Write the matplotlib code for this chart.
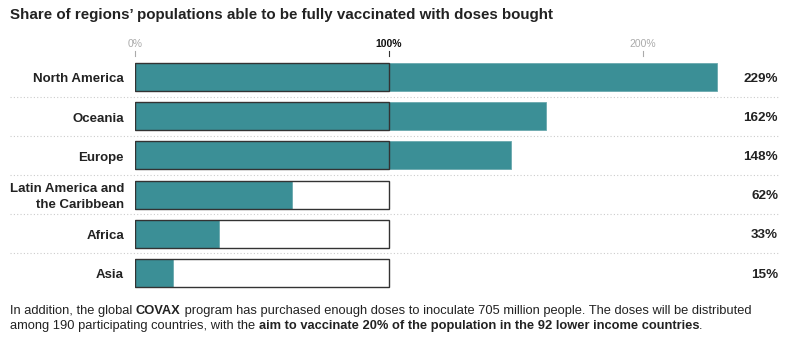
import matplotlib
matplotlib.use("Agg")
import matplotlib.pyplot as plt
from matplotlib.transforms import blended_transform_factory

regions = ["North America", "Oceania", "Europe", "Latin America and\nthe Caribbean", "Africa", "Asia"]
values = [229, 162, 148, 62, 33, 15]
tick_vals = [0, 100, 200]
tick_labels = ["0%", "100%", "200%"]
title = "Share of regions\u2019 populations able to be fully vaccinated with doses bought"

TEAL = "#3b8f96"
EDGE = "#333333"
W, H = 790, 343
fig = plt.figure(figsize=(W / 100, H / 100), dpi=100)
fig.patch.set_facecolor("white")

# axes in pixel terms
ax_l, ax_r = 135, 778
ax_top, ax_bot = 55, 292
ax = fig.add_axes([ax_l / W, 1 - ax_bot / H, (ax_r - ax_l) / W, (ax_bot - ax_top) / H])
row = 39.2
ax.set_xlim(0, (ax_r - ax_l) / 254 * 100)
ax.set_ylim((ax_bot - 77) / row, -(77 - ax_top) / row)
ax.axis("off")

bh = 28 / row
for i, v in enumerate(values):
    ax.barh(i, v, height=bh, color=TEAL, edgecolor="#6aa9ae", linewidth=0.6, zorder=2)
    ax.barh(i, 100, height=bh, facecolor="none", edgecolor=EDGE, linewidth=1.0, zorder=3)

ft = blended_transform_factory(fig.transFigure, ax.transData)
for i in range(len(values) - 1):
    ax.plot([10 / W, 778 / W], [i + 0.5, i + 0.5], transform=ft, color="#cccccc",
            linestyle=(0, (1, 2)), linewidth=0.8, clip_on=False, zorder=1)

font = "Liberation Sans"
for i, r in enumerate(regions):
    ax.text(124 / W, i + 0.06, r, transform=ft, ha="right", va="center", fontsize=9.5,
            fontweight="bold", color="#222222", family=font, linespacing=1.45)
    ax.text(778 / W, i + 0.04, f"{values[i]}%", transform=ft, ha="right", va="center",
            fontsize=9.7, fontweight="bold", color="#222222", family=font)

tt = blended_transform_factory(ax.transData, fig.transFigure)
for v, lab in zip(tick_vals, tick_labels):
    main = (v == 100)
    ax.text(v, 1 - 44 / H, lab, transform=tt, ha="center", va="center", fontsize=7.5,
            color="#111111" if main else "#aaaaaa", fontweight="bold" if main else "normal",
            family=font)
    ax.plot([v, v], [1 - 51 / H, 1 - 56 / H], transform=tt, color="#333333" if main else "#aaaaaa",
            linewidth=0.8, clip_on=False)

fig.text(10 / W, 1 - 15 / H, title, ha="left", va="center", fontsize=10.9,
         fontweight="bold", color="#222222", family=font)

# footer with mixed weights
foot_font = ["Liberation Sans"]
lines = [
    [("In addition, the global ", "normal"), ("COVAX", "bold"),
     (" program has purchased enough doses to inoculate 705 million people. The doses will be distributed", "normal")],
    [("among 190 participating countries, with the ", "normal"),
     ("aim to vaccinate 20% of the population in the 92 lower income countries", "bold"), (".", "normal")],
]
fig.canvas.draw()
renderer = fig.canvas.get_renderer()
for li, segs in enumerate(lines):
    x = 10
    y = 1 - (311 + li * 15) / H
    for s, wt in segs:
        t = fig.text(x / W, y, s, ha="left", va="center", fontsize=9.3, fontweight=wt,
                     color="#222222", family=foot_font)
        bb = t.get_window_extent(renderer=renderer)
        x = bb.x1

fig.savefig("out.png", dpi=100, facecolor="white")
